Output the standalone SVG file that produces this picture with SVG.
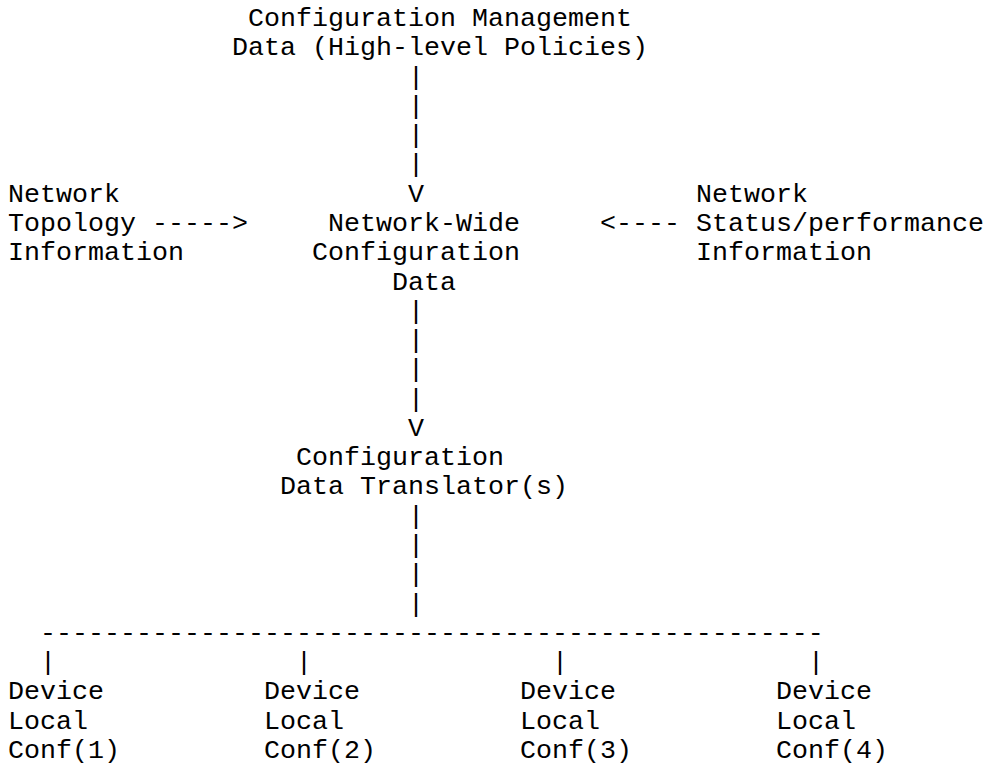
<svg xmlns="http://www.w3.org/2000/svg" width="984" height="765" viewBox="0 0 984 765">
<style>
text { font-family: "Liberation Mono", "Courier New", monospace; font-size: 26.667px; fill: #000; }
</style>
<rect x="0" y="0" width="984" height="765" fill="#fff"/>
<g id="node-policies">
<text x="248" y="26">Configuration Management</text>
<text x="232" y="55.28">Data (High-level Policies)</text>
</g>
<g id="node-topology">
<text x="8" y="201.68">Network</text>
<text x="8" y="230.96">Topology</text>
<text x="8" y="260.24">Information</text>
</g>
<g id="node-network-wide">
<text x="328" y="230.96">Network-Wide</text>
<text x="312" y="260.24">Configuration</text>
<text x="392" y="289.52">Data</text>
</g>
<g id="node-status">
<text x="696" y="201.68">Network</text>
<text x="696" y="230.96">Status/performance</text>
<text x="696" y="260.24">Information</text>
</g>
<g id="node-translator">
<text x="296" y="465.2">Configuration</text>
<text x="280" y="494.48">Data Translator(s)</text>
</g>
<g id="node-device1">
<text x="8" y="699.44">Device</text>
<text x="8" y="728.72">Local</text>
<text x="8" y="758">Conf(1)</text>
</g>
<g id="node-device2">
<text x="264" y="699.44">Device</text>
<text x="264" y="728.72">Local</text>
<text x="264" y="758">Conf(2)</text>
</g>
<g id="node-device3">
<text x="520" y="699.44">Device</text>
<text x="520" y="728.72">Local</text>
<text x="520" y="758">Conf(3)</text>
</g>
<g id="node-device4">
<text x="776" y="699.44">Device</text>
<text x="776" y="728.72">Local</text>
<text x="776" y="758">Conf(4)</text>
</g>
<g id="connectors">
<text x="408" y="84.56">|</text>
<text x="408" y="113.84">|</text>
<text x="408" y="143.12">|</text>
<text x="408" y="172.4">|</text>
<text x="408" y="201.68">V</text>
<text x="152" y="230.96">-----&gt;</text>
<text x="600" y="230.96">&lt;----</text>
<text x="408" y="318.8">|</text>
<text x="408" y="348.08">|</text>
<text x="408" y="377.36">|</text>
<text x="408" y="406.64">|</text>
<text x="408" y="435.92">V</text>
<text x="408" y="523.76">|</text>
<text x="408" y="553.04">|</text>
<text x="408" y="582.32">|</text>
<text x="408" y="611.6">|</text>
<text x="40" y="640.88">-------------------------------------------------</text>
<text x="40" y="670.16">|</text>
<text x="296" y="670.16">|</text>
<text x="552" y="670.16">|</text>
<text x="808" y="670.16">|</text>
</g>
</svg>
